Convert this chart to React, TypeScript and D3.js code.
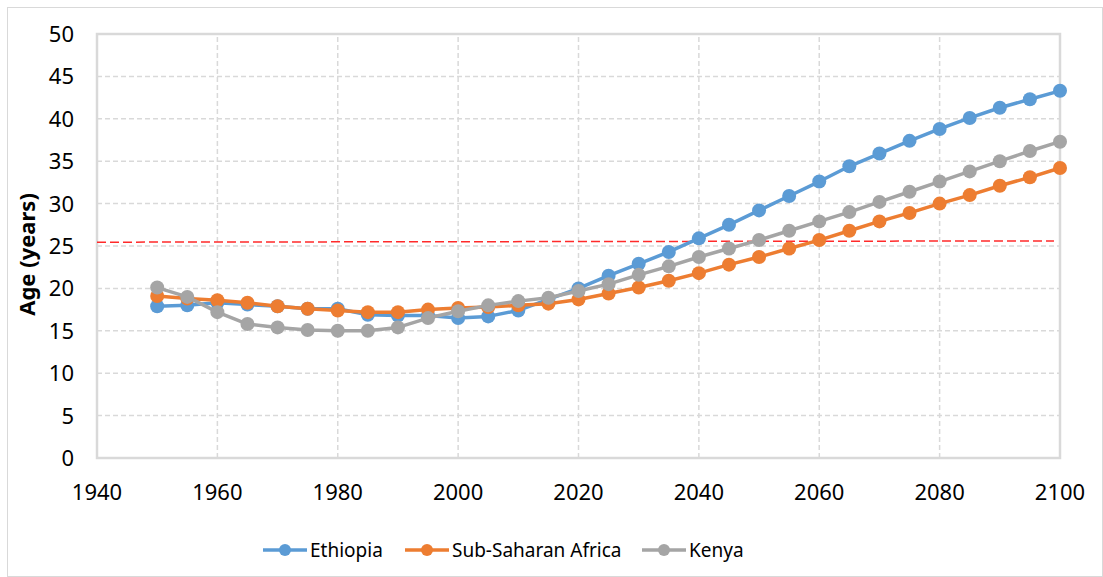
import * as d3 from "d3";
import { useEffect } from "react";

// years every 5 from 1950 to 2100
const years = d3.range(1950, 2101, 5);

const ethiopia = [
  17.9, 18.0, 18.3, 18.1, 17.9, 17.6, 17.6, 16.9, 16.8, 16.8, 16.5, 16.7, 17.4, 18.7,
  20.0, 21.5, 22.9, 24.3, 25.9, 27.5, 29.2, 30.9, 32.6, 34.4, 35.9, 37.4, 38.8, 40.1,
  41.3, 42.3, 43.3,
];
const subSaharan = [
  19.1, 18.8, 18.6, 18.3, 17.9, 17.6, 17.4, 17.2, 17.2, 17.5, 17.7, 17.8, 18.0, 18.2,
  18.7, 19.4, 20.1, 20.9, 21.8, 22.8, 23.7, 24.7, 25.7, 26.8, 27.9, 28.9, 30.0, 31.0,
  32.1, 33.1, 34.2,
];
const kenya = [
  20.1, 19.0, 17.2, 15.8, 15.4, 15.1, 15.0, 15.0, 15.4, 16.5, 17.3, 18.0, 18.5, 18.9,
  19.7, 20.5, 21.6, 22.6, 23.7, 24.7, 25.7, 26.8, 27.9, 29.0, 30.2, 31.4, 32.6, 33.8,
  35.0, 36.2, 37.3,
];

// red dashed reference line (start / end)
const refYears = [1940, 2099];
const refValues = [25.45, 25.6];

const xTicks = d3.range(1940, 2101, 20);
const yTicks = d3.range(0, 51, 5);

const seriesNames = ["Ethiopia", "Sub-Saharan Africa", "Kenya"];
const seriesColors = ["#5B9BD5", "#ED7D31", "#A5A5A5"];
const seriesData = [ethiopia, subSaharan, kenya];

const W = 1103;
const H = 577;
const FONT = "'Noto Sans', 'Open Sans', sans-serif";

export default function App() {
  useEffect(() => {
    document.body.style.margin = "0";
  }, []);

  const x = d3.scaleLinear().domain([1940, 2100]).range([97, 1060]);
  const y = d3.scaleLinear().domain([0, 50]).range([458, 34]);

  const line = d3
    .line<number>()
    .x((_, i) => x(years[i]))
    .y((d) => y(d));

  const refLine = d3
    .line<number>()
    .x((_, i) => x(refYears[i]))
    .y((d) => y(d));

  // legend layout: line start of each entry
  const legendX = [263, 405, 642];
  const legendY = 550;

  return (
    <svg width={W} height={H} style={{ display: "block", background: "#fff" }}>
      <rect x={7.5} y={7.5} width={W - 8} height={H - 8} fill="#fff" stroke="#D9D9D9" strokeWidth={1} />

      {/* grid */}
      <g stroke="#D9D9D9" strokeWidth={1.5} strokeDasharray="5,3">
        {yTicks.slice(1, -1).map((t) => (
          <line key={"gy" + t} x1={x(1940)} x2={x(2100)} y1={y(t)} y2={y(t)} />
        ))}
        {xTicks.slice(1, -1).map((t) => (
          <line key={"gx" + t} x1={x(t)} x2={x(t)} y1={y(0)} y2={y(50)} />
        ))}
      </g>
      <rect
        x={x(1940)}
        y={y(50)}
        width={x(2100) - x(1940)}
        height={y(0) - y(50)}
        fill="none"
        stroke="#D9D9D9"
        strokeWidth={2.5}
      />

      {/* reference line */}
      <path
        d={refLine(refValues) || ""}
        fill="none"
        stroke="#FF2A2A"
        strokeWidth={1.5}
        strokeDasharray="9,4"
      />

      {/* series */}
      {seriesData.map((vals, si) => (
        <g key={seriesNames[si]}>
          <path d={line(vals) || ""} fill="none" stroke={seriesColors[si]} strokeWidth={3.5} strokeLinejoin="round" />
          {vals.map((v, i) => (
            <circle key={i} cx={x(years[i])} cy={y(v)} r={7} fill={seriesColors[si]} />
          ))}
        </g>
      ))}

      {/* axis labels */}
      <g fontFamily={FONT} fontSize={22} fill="#000">
        {yTicks.map((t) => (
          <text key={"yl" + t} x={74} y={y(t)} dy="0.36em" textAnchor="end">
            {t}
          </text>
        ))}
        {xTicks.map((t) => (
          <text key={"xl" + t} x={x(t)} y={500} textAnchor="middle">
            {t}
          </text>
        ))}
      </g>
      <text
        transform={`translate(35,${y(24)}) rotate(-90)`}
        textAnchor="middle"
        fontFamily={FONT}
        fontSize={22}
        fontWeight="bold"
      >
        Age (years)
      </text>

      {/* legend */}
      <g fontFamily={FONT} fontSize={19}>
        {seriesNames.map((n, i) => (
          <g key={n} transform={`translate(${legendX[i]},${legendY})`}>
            <line x1={0} x2={44} y1={0} y2={0} stroke={seriesColors[i]} strokeWidth={3.5} />
            <circle cx={22} cy={0} r={6} fill={seriesColors[i]} />
            <text x={47} y={0} dy="0.35em">
              {n}
            </text>
          </g>
        ))}
      </g>
    </svg>
  );
}
